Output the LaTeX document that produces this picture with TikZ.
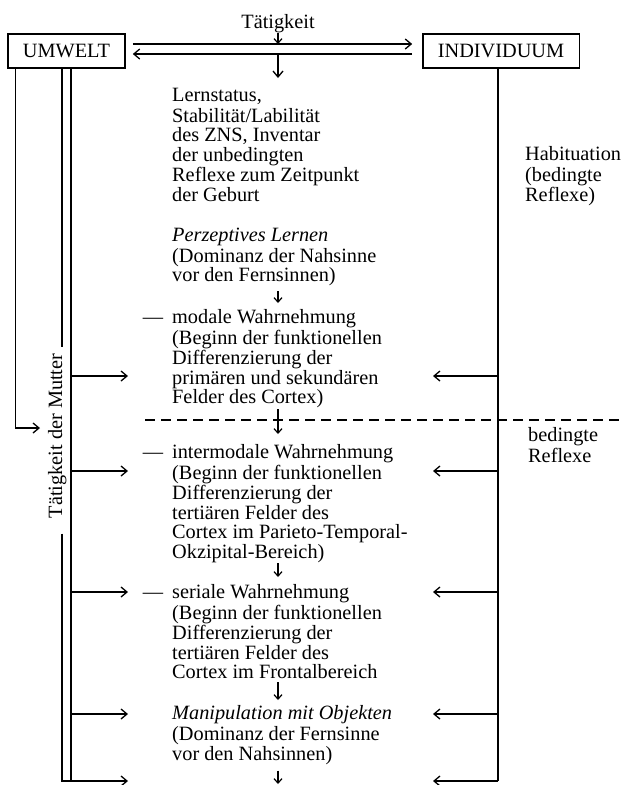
\documentclass[tikz,border=0pt]{standalone}
\usepackage{fontspec}
\setmainfont{Liberation Serif}
\usepackage{tikz}
\usetikzlibrary{arrows.meta}
\newcommand{\fsz}{\fontsize{20.3}{19.8}\selectfont}
\tikzstyle{box} = [
	rectangle,
	draw=black,
	line width=1.3pt,
	minimum height=34pt,
	inner xsep=15pt,
	font=\fsz
]
\tikzstyle{stage} = [
	align=left,
	anchor=north west,
	inner sep=0pt,
	font=\fsz
]
\tikzstyle{note} = [inner sep=0pt, font=\fsz]
\tikzstyle{wire} = [line width=1.3pt]
\tikzstyle{arrow} = [line width=1.3pt, -{Straight Barb[length=6pt,width=10pt]}]
\tikzstyle{shortarrow} = [line width=1.2pt, -{Straight Barb[length=4.5pt,width=8pt]}]

\begin{document}
\begin{tikzpicture}[x=1pt, y=-1pt]
            \useasboundingbox (0,0) rectangle (625,785);
            \node (umwelt) [box] at (66.5,51) {UMWELT};
            \node (indiv) [box] at (501,51) {INDIVIDUUM};
            \node (tat) [note, anchor=base] at (278,28) {Tätigkeit};
            \node (basis) [stage] at (172,87) {\strut Lernstatus,\\ Stabilität/Labilität\\ des ZNS, Inventar\\ der unbedingten\\ Reflexe zum Zeitpunkt\\ der Geburt};
            \node (perz) [stage] at (172,227) {\strut\textit{Perzeptives Lernen}\\ (Dominanz der Nahsinne\\ vor den Fernsinnen)};
            \node (modal) [stage] at (172,309) {\strut\llap{—\hspace{9pt}}modale Wahrnehmung\\ (Beginn der funktionellen\\ Differenzierung der\\ primären und sekundären\\ Felder des Cortex)};
            \node (inter) [stage] at (172,444) {\strut\llap{—\hspace{9pt}}intermodale Wahrnehmung\\ (Beginn der funktionellen\\ Differenzierung der\\ tertiären Felder des\\ Cortex im Parieto-Temporal-\\ Okzipital-Bereich)};
            \node (serial) [stage] at (172,584) {\strut\llap{—\hspace{9pt}}seriale Wahrnehmung\\ (Beginn der funktionellen\\ Differenzierung der\\ tertiären Felder des\\ Cortex im Frontalbereich};
            \node (manip) [stage] at (172,705) {\strut\textit{Manipulation mit Objekten}\\ (Dominanz der Fernsinne\\ vor den Nahsinnen)};
            \node (habit) [stage] at (525,146) {\strut Habituation\\ (bedingte\\ Reflexe)};
            \node (bedingt) [stage] at (528,427) {\strut bedingte\\ Reflexe};
            \node (mutter) [note, rotate=90, anchor=base] at (62,436) {Tätigkeit der Mutter};
            % levels and free ends
            \coordinate (up) at (0,44);
            \coordinate (dn) at (0,54);
            \coordinate (mline) at ([xshift=-4.5pt]umwelt.south);
            \coordinate (aline) at ([xshift=4.5pt]umwelt.south);
            \coordinate (iline) at ([xshift=-3pt]indiv.south);
            \coordinate (hook) at (40,428);
            \coordinate (lin) at (128,0);
            \coordinate (rin) at (433,0);
            \coordinate (lv1) at (0,376);
            \coordinate (lv2) at (0,471);
            \coordinate (lv3) at (0,592);
            \coordinate (lv4) at (0,714);
            \coordinate (foot) at (0,781);
            \coordinate (bottom) at (0,784);
            \coordinate (dl) at (145,420);
            \coordinate (dr) at (625,420);
            \draw [arrow] ([xshift=7pt]umwelt.east |- up) -- ([xshift=-10pt]indiv.west |- up);
            \draw [arrow] ([xshift=-10pt]indiv.west |- dn) -- ([xshift=7pt]umwelt.east |- dn);
            \draw [shortarrow] (tat.south) -- (tat.south |- up);
            \draw [arrow] (tat.south |- dn) -- ([yshift=9pt]basis.north -| tat.south);
            \draw [shortarrow] ([yshift=-5pt]perz.south -| tat.south) -- ([yshift=6pt]modal.north -| tat.south);
            \draw [shortarrow] ([yshift=-1pt]modal.south -| tat.south) -- ([yshift=10pt]inter.north -| tat.south);
            \draw [shortarrow] (inter.south -| tat.south) -- ([yshift=7pt]serial.north -| tat.south);
            \draw [shortarrow] ([yshift=-3pt]serial.south -| tat.south) -- ([yshift=5pt]manip.north -| tat.south);
            \draw [shortarrow] ([yshift=-6pt]manip.south -| tat.south) -- (tat.south |- bottom);
            \draw [wire, dash pattern=on 10pt off 6pt] (dl) -- (dr);
            % environment side
            \draw [arrow] ([xshift=8pt]umwelt.south west) |- (hook);
            \draw [wire] (mline) -- ([yshift=7pt]mutter.east -| mline);
            \draw [arrow] ([yshift=-15pt]mutter.west -| mline) |- (lin |- foot);
            \draw [wire] (aline) -- (aline |- foot);
            % individual side
            \draw [wire] (iline) -- (iline |- foot);
            \draw [arrow] (iline |- foot) -- (rin |- foot);
            \foreach \lv in {lv1,lv2,lv3,lv4} {
              \draw [arrow] (aline |- \lv) -- (lin |- \lv);
              \draw [arrow] (iline |- \lv) -- (rin |- \lv);
            }
          \end{tikzpicture}
\end{document}
